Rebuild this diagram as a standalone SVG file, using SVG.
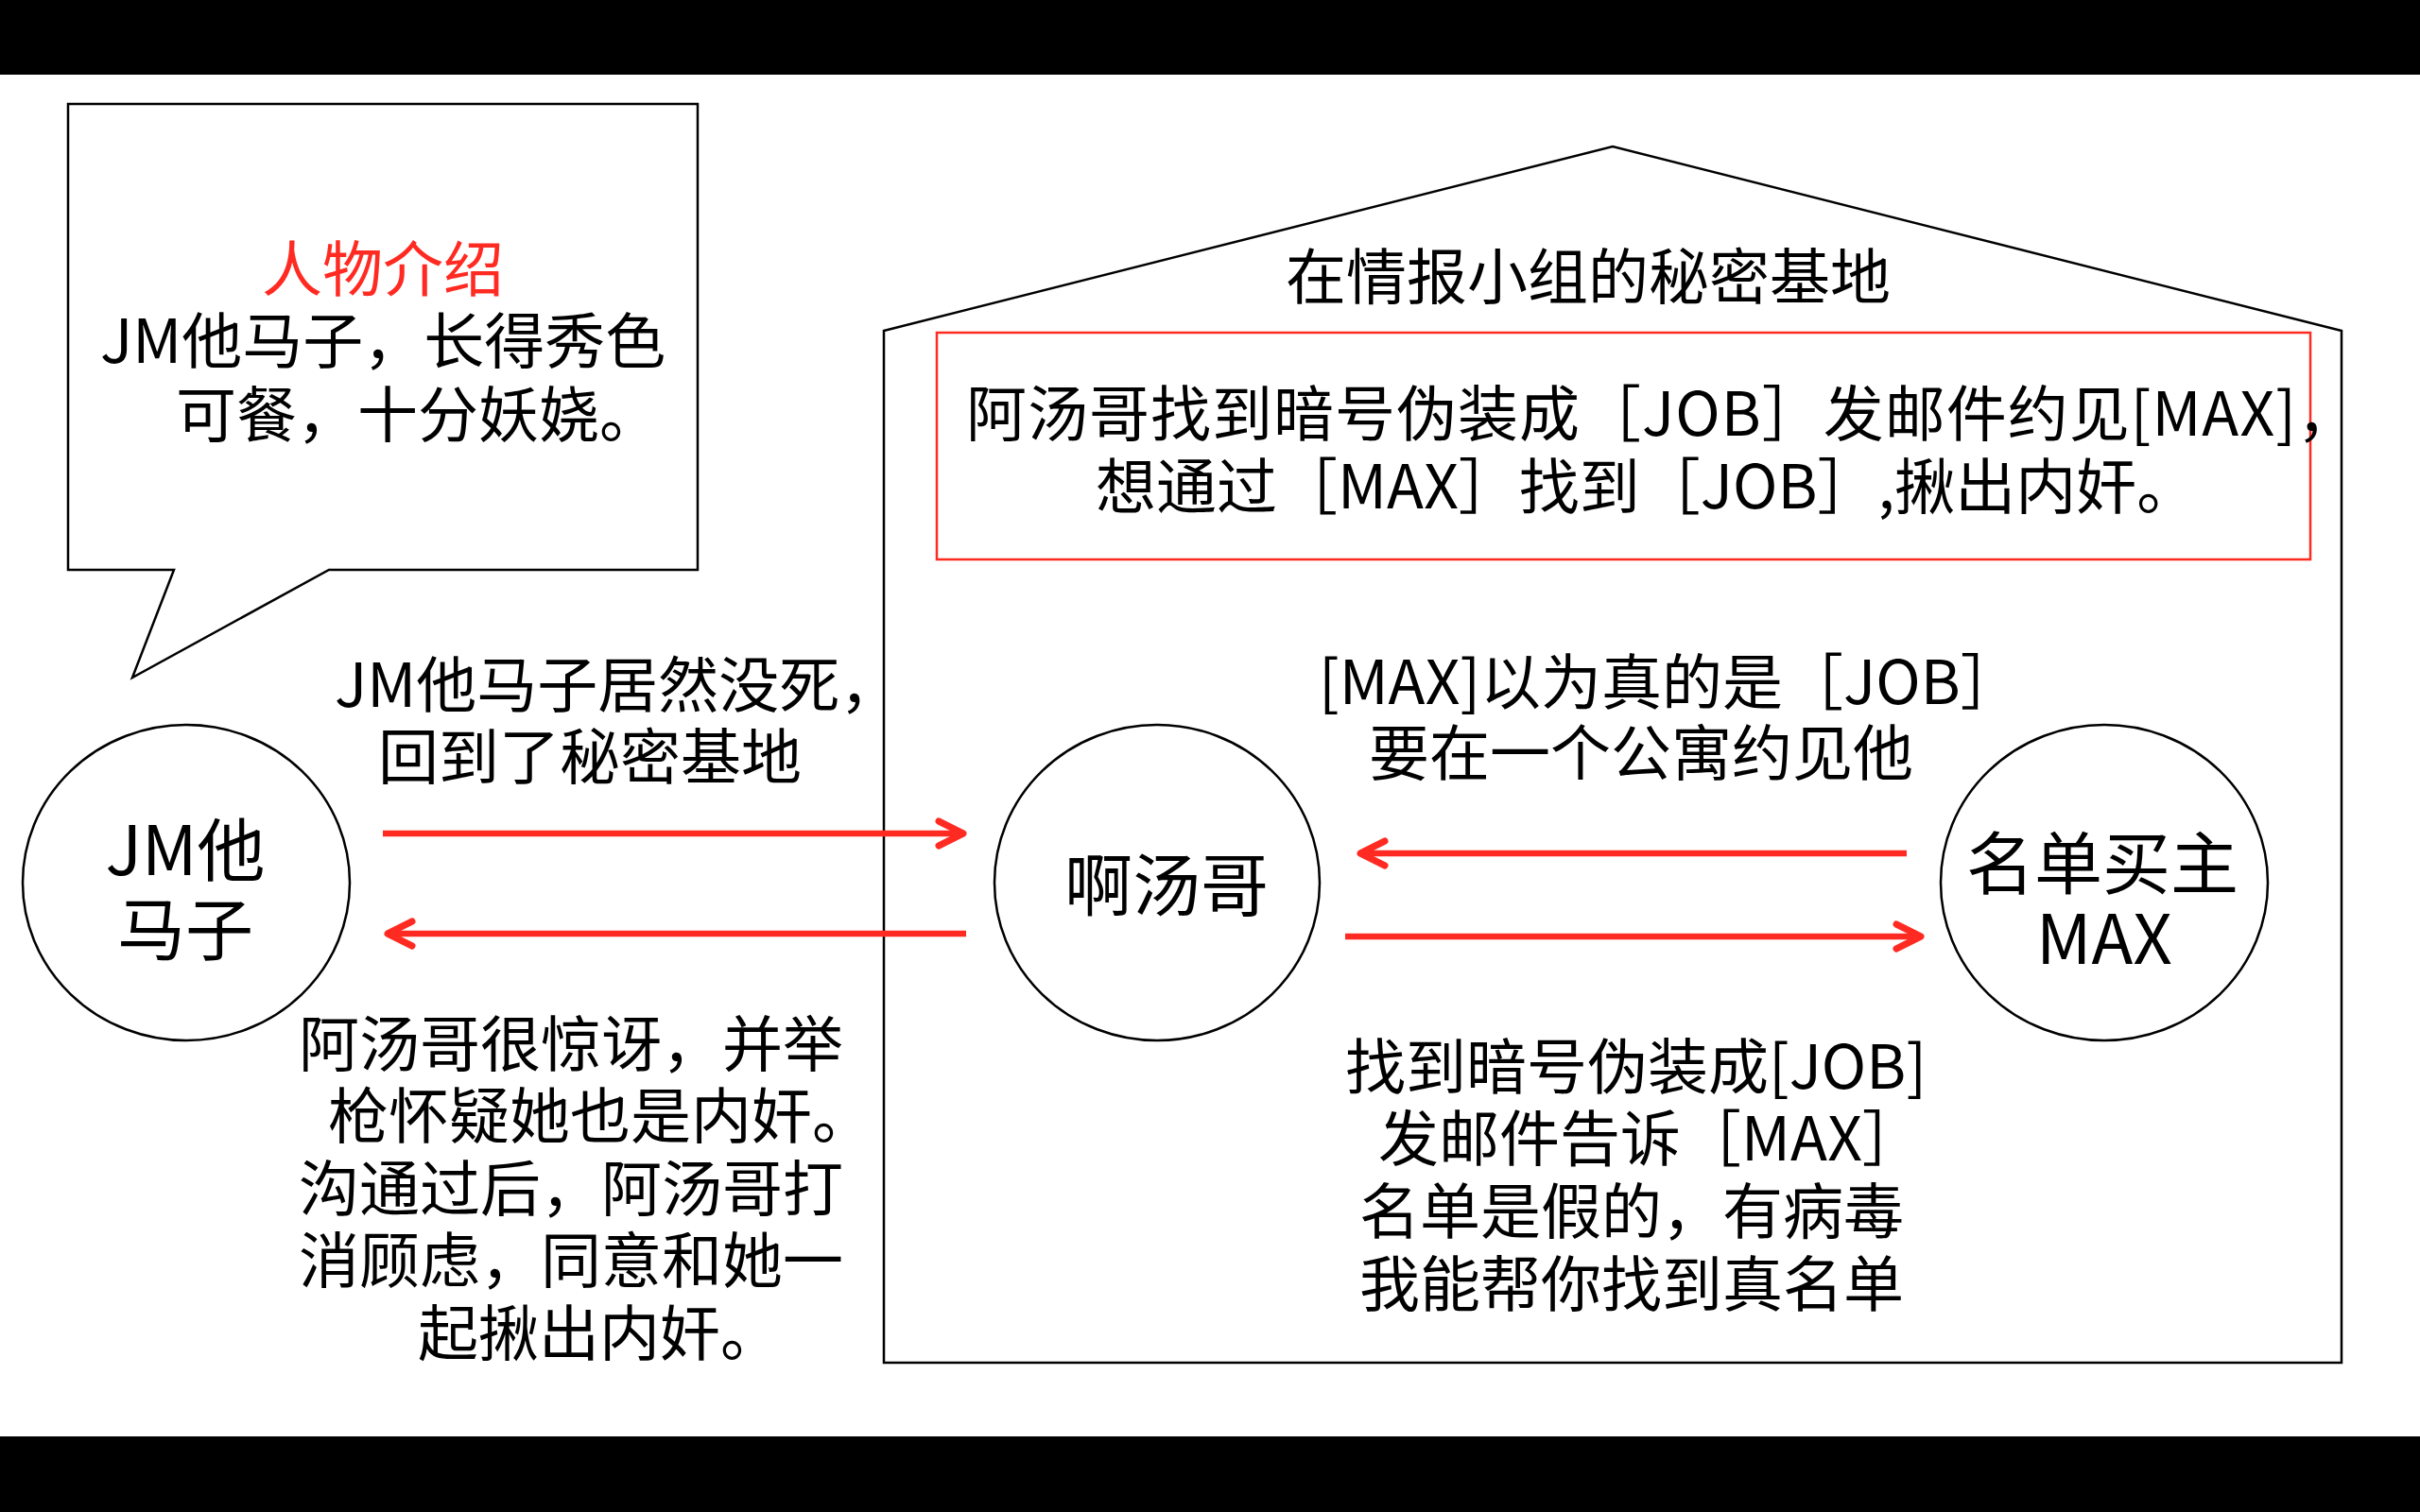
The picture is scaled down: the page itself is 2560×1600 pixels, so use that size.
<svg xmlns="http://www.w3.org/2000/svg" width="2560" height="1600" viewBox="0 0 2560 1600">
<defs>
<style>
text{font-family:"Noto Sans CJK SC","Noto Sans",sans-serif;font-size:64px;fill:#000}
.n{font-size:72px}
.red{fill:#FF2B22}
.shape{fill:#fff;stroke:#000;stroke-width:2.5}
.conn{stroke:#FF2B22;stroke-width:6.5;fill:none;marker-end:url(#arr)}
</style>
<marker id="arr" viewBox="-36 -20 42 40" markerWidth="42" markerHeight="40" refX="0" refY="0" orient="auto" markerUnits="userSpaceOnUse">
<path d="M-26,-13 L0,0 L-26,13" fill="none" stroke="#FF2B22" stroke-width="7" stroke-linecap="round" stroke-linejoin="round"/>
</marker>
</defs>
<rect x="0" y="0" width="2560" height="1600" fill="#fff"/>
<rect x="0" y="0" width="2560" height="79" fill="#000"/>
<rect x="0" y="1520" width="2560" height="80" fill="#000"/>

<g id="callout">
<path class="shape" d="M72,110 L738,110 L738,603 L348,603 L140,717 L184,603 L72,603 Z"/>
<text><tspan class="red" x="405" y="308" text-anchor="middle">人物介绍</tspan><tspan x="106" y="384">JM他马子，长得秀色</tspan><tspan x="186" y="462">可餐，十分妖娆。</tspan></text>
</g>

<g id="base">
<path class="shape" d="M935,350 L1706,155 L2477,350 L2477,1442 L935,1442 Z"/>
<text x="1360" y="316">在情报小组的秘密基地</text>
</g>

<g id="plan">
<rect x="991" y="352" width="1453" height="240" fill="none" stroke="#FF2B22" stroke-width="2.5"/>
<text><tspan x="1022" y="461" letter-spacing="1">阿汤哥找到暗号伪装成［JOB］发邮件约见[MAX]，</tspan><tspan x="1159" y="538">想通过［MAX］找到［JOB］,揪出内奸。</tspan></text>
</g>

<g id="node-jm">
<ellipse class="shape" cx="197" cy="934" rx="173" ry="167"/>
<text class="n" text-anchor="middle"><tspan x="196" y="926">JM他</tspan><tspan x="196" y="1010">马子</tspan></text>
</g>

<g id="node-tang">
<ellipse class="shape" cx="1224" cy="934" rx="172" ry="167"/>
<text class="n" x="1234" y="963" text-anchor="middle">啊汤哥</text>
</g>

<g id="node-max">
<ellipse class="shape" cx="2226" cy="934" rx="173" ry="167"/>
<text class="n" text-anchor="middle"><tspan x="2224" y="940">名单买主</tspan><tspan x="2226" y="1020">MAX</tspan></text>
</g>

<g id="connectors">
<line class="conn" x1="405" y1="882" x2="1019" y2="882"/>
<line class="conn" x1="1022" y1="988" x2="410" y2="988"/>
<line class="conn" x1="2017" y1="903" x2="1439" y2="903"/>
<line class="conn" x1="1423" y1="991" x2="2032" y2="991"/>
</g>

<g id="labels">
<text><tspan x="354" y="748">JM他马子居然没死，</tspan><tspan x="400" y="824">回到了秘密基地</tspan></text>
<text><tspan x="316" y="1128">阿汤哥很惊讶，并举</tspan><tspan x="347" y="1204">枪怀疑她也是内奸。</tspan><tspan x="316" y="1281">沟通过后，阿汤哥打</tspan><tspan x="316" y="1357">消顾虑，同意和她一</tspan><tspan x="442" y="1434">起揪出内奸。</tspan></text>
<text><tspan x="1395" y="745">[MAX]以为真的是［JOB］</tspan><tspan x="1448" y="820">要在一个公寓约见他</tspan></text>
<text><tspan x="1423" y="1152">找到暗号伪装成[JOB]</tspan><tspan x="1458" y="1228">发邮件告诉［MAX］</tspan><tspan x="1438" y="1305">名单是假的，有病毒</tspan><tspan x="1438" y="1382">我能帮你找到真名单</tspan></text>
</g>
</svg>
